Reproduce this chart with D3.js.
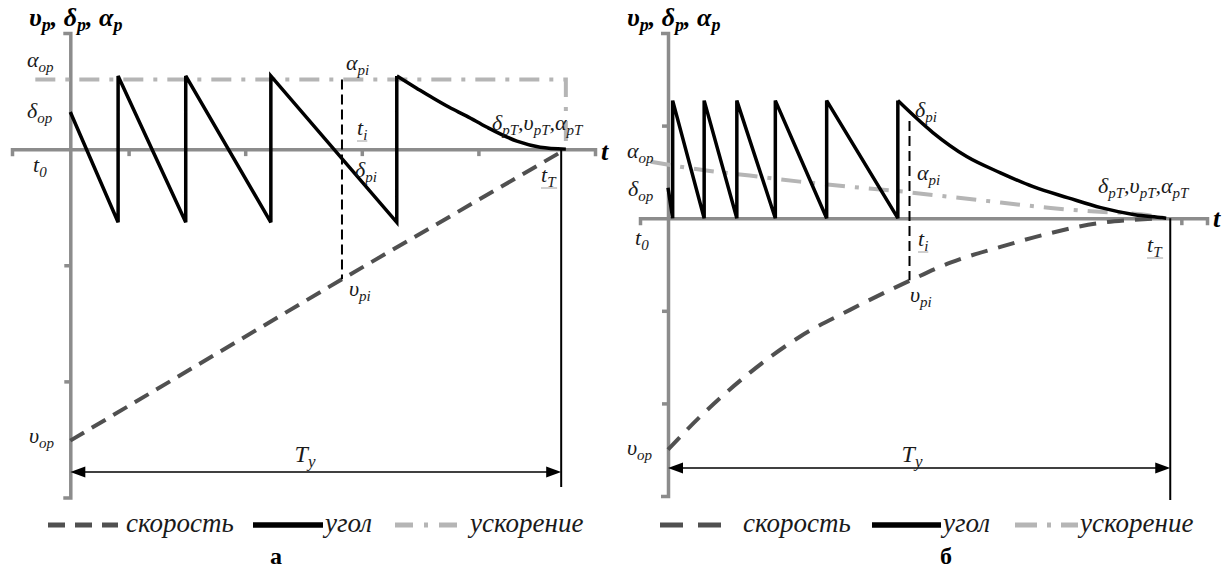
<!DOCTYPE html>
<html>
<head>
<meta charset="utf-8">
<script src="https://cdn.jsdelivr.net/npm/d3@7"></script>
<style>
  html, body { margin: 0; padding: 0; background: #fff; }
  svg { display: block; }
</style>
</head>
<body>
<svg id="chart" width="1227" height="568"></svg>
<script>
// ===== Panel а: uniform braking (time t, scaled values) =====
const aAngleT  = [0, 0.41, 0.41, 0.99, 0.99, 1.72, 1.72, 2.80, 2.80];
const aAngleV  = [0.32, -0.63, 0.63, -0.63, 0.63, -0.63, 0.63, -0.63, 0.63];
const aDecayT  = [2.80, 2.97, 3.11, 3.25, 3.40, 3.57, 3.83, 4.03, 4.25];
const aDecayV  = [0.63, 0.525, 0.44, 0.36, 0.284, 0.19, 0.069, 0.017, 0];
const aSpeedT  = [0, 2.33, 4.25];
const aSpeedV  = [-2.51, -1.12, 0];
const aAccelT  = [-0.30, 4.25, 4.25];
const aAccelV  = [0.60, 0.60, 0];
const aMarkT   = 2.33;            // t_i
const aMarkTop = 0.60;            // α_pi
const aMarkBot = -1.12;           // υ_pi
const aEndT    = 4.21;            // end of T_y
const aXTicks  = [0.5, 1.5, 2.5, 3.5];
const aYTicks  = [-2, -1];

// ===== Panel б: decaying acceleration =====
const bAngleT  = [0, 0.04, 0.04, 0.31, 0.31, 0.59, 0.59, 0.92, 0.92, 1.36, 1.36, 1.97, 1.97];
const bAngleV  = [0.33, 0, 1.27, 0, 1.27, 0, 1.27, 0, 1.27, 0, 1.27, 0, 1.27];
const bDecayT  = [1.97, 2.27, 2.56, 2.85, 3.13, 3.43, 3.71, 4.00, 4.24, 4.27];
const bDecayV  = [1.27, 0.925, 0.666, 0.49, 0.34, 0.22, 0.114, 0.038, 0.005, 0];
const bSpeedT  = [0, 0.27, 0.70, 1.13, 1.56, 2.08, 2.42, 2.85, 3.28, 3.71, 3.97, 4.22];
const bSpeedV  = [-2.50, -2.15, -1.67, -1.28, -0.99, -0.67, -0.48, -0.31, -0.16, -0.05, -0.02, 0];
const bAccelT  = [-0.15, 0.27, 0.70, 1.13, 1.56, 1.99, 2.42, 2.85, 3.28, 3.70, 4.07, 4.26];
const bAccelV  = [0.61, 0.525, 0.46, 0.395, 0.34, 0.29, 0.23, 0.17, 0.11, 0.07, 0.04, 0];
const bMarkT   = 2.07;            // t_i
const bMarkTop = 1.05;
const bMarkBot = -0.67;           // υ_pi
const bEndT    = 4.305;           // end of T_y
const bXTicks  = [4.4];
const bYTicks  = [-2, -1, 1];

const legendNames = ["скорость", "угол", "ускорение"];
const panelNames  = ["а", "б"];

// ===== drawing =====
const FONT = "\"Liberation Serif\", Tinos, \"Times New Roman\", serif";
const svg = d3.select("#chart");
svg.append("rect").attr("width", 1227).attr("height", 568).attr("fill", "#fff");

const AXIS = "#8c8c8c", SPEED = "#505050", ACCEL = "#b5b5b5";

function label(g, x, y, pieces, o = {}) {
  const fs = o.size || 22, ss = o.sub || 15, shift = o.shift || 5;
  const t = g.append("text").attr("x", x).attr("y", y)
    .style("font-family", FONT)
    .attr("font-style", "italic").attr("font-size", fs)
    .attr("fill", o.fill || "#1a1a1a");
  if (o.bold) t.attr("font-weight", "bold");
  if (o.anchor) t.attr("text-anchor", o.anchor);
  let down = false;
  pieces.forEach(p => {
    const ts = t.append("tspan").text(p[0]);
    if (p[1]) {
      ts.attr("font-size", ss);
      if (!down) { ts.attr("dy", shift); down = true; }
    } else if (down) { ts.attr("dy", -shift); down = false; }
  });
  if (o.underline) {
    const b = t.node().getBBox();
    g.append("line").attr("x1", b.x).attr("x2", b.x + b.width)
      .attr("y1", y + 6).attr("y2", y + 6)
      .attr("stroke", "#a0a0a0").attr("stroke-width", 1);
  }
  return t;
}

function panel(cfg) {
  const g = svg.append("g");
  const x = cfg.x, y = cfg.y;

  // axes
  const xa = g.append("g").attr("transform", `translate(0,${y(0)})`)
    .call(d3.axisBottom(x).tickValues(cfg.xTicks).tickSizeInner(7).tickSizeOuter(7).tickFormat(""));
  const ya = g.append("g").attr("transform", `translate(${x(0)},0)`)
    .call(d3.axisLeft(y).tickValues(cfg.yTicks).tickSizeInner(6).tickSizeOuter(7).tickFormat(""));
  [xa, ya].forEach(a => {
    a.selectAll("path,line").attr("stroke", AXIS).attr("stroke-width", 3.5);
    a.selectAll("path").attr("fill", "none");
  });

  const lin = d3.line().x(d => x(d[0])).y(d => y(d[1]));
  const smooth = d3.line().x(d => x(d[0])).y(d => y(d[1])).curve(d3.curveMonotoneX);

  // acceleration
  g.append("path").datum(d3.zip(cfg.accT, cfg.accV))
    .attr("d", cfg.accSmooth ? smooth : lin)
    .attr("fill", "none").attr("stroke", ACCEL).attr("stroke-width", 4)
    .attr("stroke-dasharray", "20 10 4 10");

  // speed
  g.append("path").datum(d3.zip(cfg.spT, cfg.spV))
    .attr("d", cfg.spSmooth ? smooth : lin)
    .attr("fill", "none").attr("stroke", SPEED).attr("stroke-width", 4)
    .attr("stroke-dasharray", cfg.spDash);

  // angle: sawtooth + final decay
  g.append("path").datum(d3.zip(cfg.anT, cfg.anV)).attr("d", lin)
    .attr("fill", "none").attr("stroke", "#000").attr("stroke-width", 3.5)
    .attr("stroke-linejoin", "miter").attr("stroke-miterlimit", 3);
  g.append("path").datum(d3.zip(cfg.dcT, cfg.dcV)).attr("d", smooth)
    .attr("fill", "none").attr("stroke", "#000").attr("stroke-width", 3.5);

  // t_i marker
  g.append("line")
    .attr("x1", x(cfg.markT)).attr("x2", x(cfg.markT))
    .attr("y1", y(cfg.markTop)).attr("y2", y(cfg.markBot))
    .attr("stroke", "#000").attr("stroke-width", 2).attr("stroke-dasharray", "10 5");

  // end boundary and T_y arrow
  g.append("line")
    .attr("x1", x(cfg.endT)).attr("x2", x(cfg.endT))
    .attr("y1", y(0)).attr("y2", cfg.boundBottom)
    .attr("stroke", "#000").attr("stroke-width", 2);
  const ay = cfg.arrowY, x0 = x(0), x1 = x(cfg.endT);
  g.append("line").attr("x1", x0 + 8).attr("x2", x1 - 8).attr("y1", ay).attr("y2", ay)
    .attr("stroke", "#000").attr("stroke-width", 1.6);
  g.append("path").attr("d", `M${x0},${ay} L${x0 + 15},${ay - 5.5} L${x0 + 15},${ay + 5.5} Z`).attr("fill", "#000");
  g.append("path").attr("d", `M${x1},${ay} L${x1 - 15},${ay - 5.5} L${x1 - 15},${ay + 5.5} Z`).attr("fill", "#000");

  // legend
  const L = cfg.legend;
  g.append("line").attr("x1", L.sp[0]).attr("x2", L.sp[1]).attr("y1", L.y).attr("y2", L.y)
    .attr("stroke", SPEED).attr("stroke-width", 5).attr("stroke-dasharray", L.spDash);
  g.append("line").attr("x1", L.an[0]).attr("x2", L.an[1]).attr("y1", L.y).attr("y2", L.y)
    .attr("stroke", "#000").attr("stroke-width", 5.5);
  g.append("line").attr("x1", L.ac[0]).attr("x2", L.ac[1]).attr("y1", L.y).attr("y2", L.y)
    .attr("stroke", ACCEL).attr("stroke-width", 5).attr("stroke-dasharray", L.acDash);
  legendNames.forEach((n, i) => {
    g.append("text").attr("x", L.tx[i]).attr("y", L.y + 7)
      .style("font-family", FONT)
      .attr("font-style", "italic").attr("font-size", 27).attr("fill", "#1a1a1a").text(n);
  });

  g.append("text").attr("x", cfg.nameX).attr("y", 564).attr("text-anchor", "middle")
    .style("font-family", FONT)
    .attr("font-weight", "bold").attr("font-size", 24).attr("fill", "#000").text(cfg.name);

  // labels
  const T = cfg.txt;
  label(g, T.title[0], T.title[1], [["υ"], ["p", 1], [", δ"], ["p", 1], [", α"], ["p", 1]],
    { size: 26, sub: 18, bold: true, fill: "#000" });
  label(g, T.aop[0], T.aop[1], [["α"], ["op", 1]]);
  label(g, T.dop[0], T.dop[1], [["δ"], ["op", 1]]);
  label(g, T.t0[0], T.t0[1], [["t"], ["0", 1]]);
  label(g, T.vop[0], T.vop[1], [["υ"], ["op", 1]]);
  label(g, T.api[0], T.api[1], [["α"], ["pi", 1]]);
  label(g, T.ti[0], T.ti[1], [["t"], ["i", 1]], { underline: true });
  label(g, T.dpi[0], T.dpi[1], [["δ"], ["pi", 1]]);
  label(g, T.vpi[0], T.vpi[1], [["υ"], ["pi", 1]]);
  label(g, T.end[0], T.end[1], [["δ"], ["pT", 1], [","], ["υ"], ["pT", 1], [","], ["α"], ["pT", 1]]);
  label(g, T.tT[0], T.tT[1], [["t"], ["T", 1]], { underline: true });
  label(g, T.t[0], T.t[1], [["t"]], { size: 26, bold: true, fill: "#000" });
  label(g, T.Ty[0], T.Ty[1], [["T"], ["y", 1]], { size: 24, sub: 17, anchor: "middle" });
}

panel({
  name: panelNames[0], nameX: 276,
  x: d3.scaleLinear().domain([-0.5, 4.5]).range([12, 595]),
  y: d3.scaleLinear().domain([-3, 1]).range([497.5, 33]),
  xTicks: aXTicks, yTicks: aYTicks,
  anT: aAngleT, anV: aAngleV, dcT: aDecayT, dcV: aDecayV,
  spT: aSpeedT, spV: aSpeedV, spSmooth: false, spDash: "16 9",
  accT: aAccelT, accV: aAccelV, accSmooth: false,
  markT: aMarkT, markTop: aMarkTop, markBot: aMarkBot,
  endT: aEndT, boundBottom: 487, arrowY: 472,
  legend: { y: 525, sp: [48, 118], an: [253, 323], ac: [395, 462],
            spDash: "17 10", acDash: "18 11 4 11", tx: [126, 325, 470] },
  txt: {
    title: [29, 26], aop: [27, 67], dop: [27, 118], t0: [33, 172], vop: [29, 443],
    api: [346, 70], ti: [357, 135], dpi: [355, 177], vpi: [349, 296],
    end: [492, 130], tT: [541, 182], t: [601, 160], Ty: [305, 462]
  }
});

panel({
  name: panelNames[1], nameX: 946,
  x: d3.scaleLinear().domain([-0.24, 4.62]).range([640, 1207]),
  y: d3.scaleLinear().domain([-3, 2]).range([496, 33]),
  xTicks: bXTicks, yTicks: bYTicks,
  anT: bAngleT, anV: bAngleV, dcT: bDecayT, dcV: bDecayV,
  spT: bSpeedT, spV: bSpeedV, spSmooth: true, spDash: "17 11",
  accT: bAccelT, accV: bAccelV, accSmooth: true,
  markT: bMarkT, markTop: bMarkTop, markBot: bMarkBot,
  endT: bEndT, boundBottom: 500, arrowY: 468,
  legend: { y: 525, sp: [660, 727], an: [872, 941], ac: [1015, 1078],
            spDash: "23 15", acDash: "22 10 4 10", tx: [743, 943, 1080] },
  txt: {
    title: [627, 26], aop: [627, 158], dop: [628, 196], t0: [635, 245], vop: [627, 455],
    api: [917, 180], ti: [918, 246], dpi: [915, 117], vpi: [910, 302],
    end: [1098, 193], tT: [1147, 252], t: [1213, 227], Ty: [912, 462]
  }
});
</script>
</body>
</html>
